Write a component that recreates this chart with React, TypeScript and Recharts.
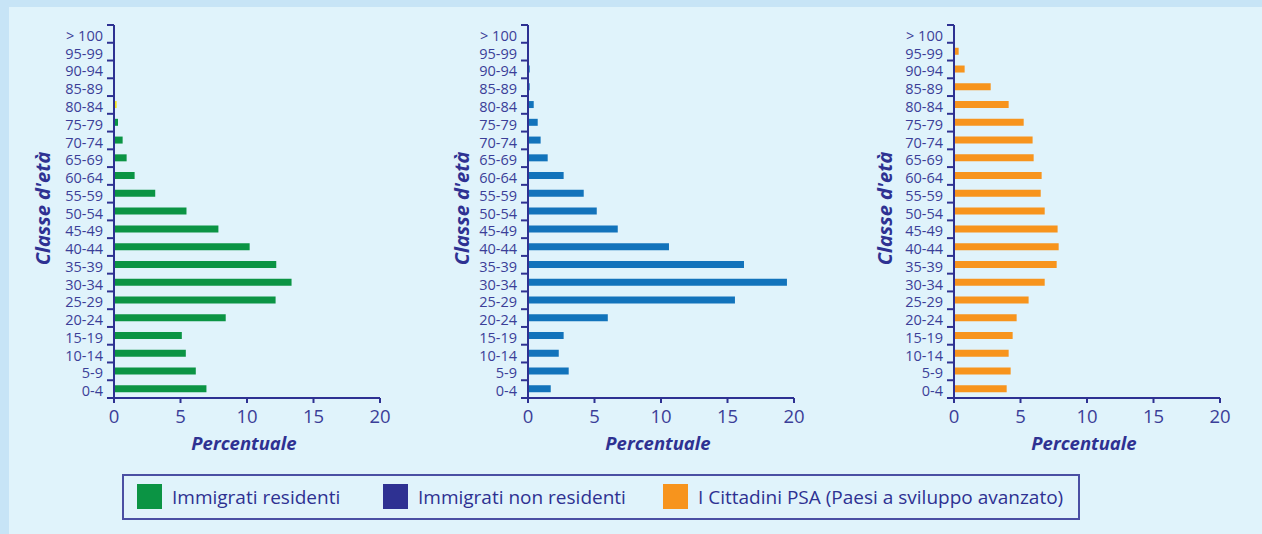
import { BarChart, Bar, XAxis, YAxis, Cell } from "recharts";

const AGE_CLASSES = [
  "> 100", "95-99", "90-94", "85-89", "80-84", "75-79", "70-74", "65-69", "60-64", "55-59",
  "50-54", "45-49", "40-44", "35-39", "30-34", "25-29", "20-24", "15-19", "10-14", "5-9", "0-4",
];

const RESIDENTI = [0, 0, 0, 0.05, 0.2, 0.3, 0.65, 0.95, 1.55, 3.1, 5.45, 7.85, 10.2, 12.2, 13.35, 12.15, 8.4, 5.1, 5.4, 6.15, 6.95];
const NON_RESIDENTI = [0, 0, 0.13, 0.13, 0.43, 0.73, 0.95, 1.48, 2.68, 4.19, 5.17, 6.75, 10.6, 16.24, 19.47, 15.56, 6.0, 2.68, 2.31, 3.06, 1.71];
const PSA = [0, 0.35, 0.8, 2.76, 4.11, 5.24, 5.91, 5.99, 6.59, 6.52, 6.82, 7.79, 7.87, 7.72, 6.82, 5.61, 4.71, 4.41, 4.11, 4.26, 3.96];

// the two oldest classes of the first pyramid are drawn in yellow in the original
const HIGHLIGHT = ["85-89", "80-84"];

const X_TICKS = [0, 5, 10, 15, 20];

const LEGEND = [
  { label: "Immigrati residenti", color: "#0b9444", x: 137 },
  { label: "Immigrati non residenti", color: "#2e3192", x: 383 },
  { label: "I Cittadini PSA (Paesi a sviluppo avanzato)", color: "#f7941d", x: 663 },
];

const AXIS = "#2e3192";
const TEXT = "#3b3e98";
const FONT = "'Open Sans', sans-serif";

const PLOT_TOP = 25;
const PLOT_BOTTOM = 398;
const CHART_H = 460;
const BAND = (PLOT_BOTTOM - PLOT_TOP) / AGE_CLASSES.length;

function YTick(props: any) {
  const { x, y, payload, index } = props;
  return (
    <g>
      <text x={x - 11} y={y + 2} dy="0.35em" textAnchor="end" fill={TEXT} fontSize={14.5} fontFamily={FONT}>
        {payload.value}
      </text>
      <line x1={x - 7} x2={x} y1={y + BAND / 2} y2={y + BAND / 2} stroke={AXIS} strokeWidth={2} />
      {index === 0 && <line x1={x - 7} x2={x} y1={y - BAND / 2} y2={y - BAND / 2} stroke={AXIS} strokeWidth={2} />}
    </g>
  );
}

interface PyramidProps {
  values: number[];
  color: string;
  left: number;
  width: number;
  yAxisWidth: number;
  right: number;
  titleX: number;
  highlight?: boolean;
}

function Pyramid({ values, color, left, width, yAxisWidth, right, titleX, highlight }: PyramidProps) {
  const data = AGE_CLASSES.map((age, i) => ({ age, value: values[i] }));
  const midX = yAxisWidth + (width - right - yAxisWidth) / 2;
  const midY = (PLOT_TOP + PLOT_BOTTOM) / 2;
  return (
    <div style={{ position: "absolute", left, top: 0 }}>
      <BarChart
        layout="vertical"
        width={width}
        height={CHART_H}
        data={data}
        margin={{ top: PLOT_TOP, right, left: 0, bottom: 0 }}
      >
        <XAxis
          type="number"
          domain={[0, 20]}
          ticks={X_TICKS}
          interval={0}
          height={CHART_H - PLOT_BOTTOM}
          axisLine={{ stroke: AXIS, strokeWidth: 2 }}
          tickLine={{ stroke: AXIS, strokeWidth: 2 }}
          tickSize={5}
          tickMargin={7}
          tick={{ fill: TEXT, fontSize: 18.5, fontFamily: FONT }}
          label={{
            content: () => (
              <text
                x={midX - 3}
                y={444}
                dy="0.35em"
                textAnchor="middle"
                fill={AXIS}
                fontSize={18.5}
                fontWeight="bold"
                fontStyle="italic"
                fontFamily={FONT}
              >
                Percentuale
              </text>
            ),
          }}
        />
        <YAxis
          type="category"
          dataKey="age"
          width={yAxisWidth}
          interval={0}
          tickSize={0}
          tickMargin={0}
          tickLine={false}
          axisLine={{ stroke: AXIS, strokeWidth: 2 }}
          tick={YTick}
          label={{
            content: () => (
              <text
                x={titleX}
                y={midY - 3}
                dy="0.35em"
                transform={`rotate(-90 ${titleX} ${midY - 3})`}
                textAnchor="middle"
                fill={AXIS}
                fontSize={20}
                fontWeight="bold"
                fontStyle="italic"
                fontFamily={FONT}
              >
                Classe d'età
              </text>
            ),
          }}
        />
        <Bar dataKey="value" fill={color} barSize={7} isAnimationActive={false}>
          {data.map((d) => (
            <Cell key={d.age} fill={highlight && HIGHLIGHT.includes(d.age) ? "#f4e41c" : color} />
          ))}
        </Bar>
      </BarChart>
    </div>
  );
}

export default function App() {
  return (
    <div style={{ position: "absolute", left: 0, top: 0, width: 1262, height: 534, background: "#c7e4f6", overflow: "hidden" }}>
      <div style={{ position: "absolute", left: 9, top: 7, right: 0, bottom: 0, background: "#e0f3fb" }} />
      <Pyramid values={RESIDENTI} color="#0b9444" left={0} width={420} yAxisWidth={114} right={40} titleX={43} highlight />
      <Pyramid values={NON_RESIDENTI} color="#1273bb" left={420} width={420} yAxisWidth={108} right={46} titleX={42} />
      <Pyramid values={PSA} color="#f7941d" left={840} width={422} yAxisWidth={114} right={42} titleX={45} />
      <div
        style={{
          position: "absolute",
          left: 122,
          top: 474,
          width: 958,
          height: 46,
          border: "2px solid #4a4fa3",
          boxSizing: "border-box",
        }}
      />
      {LEGEND.map((l) => (
        <div
          key={l.label}
          style={{
            position: "absolute",
            left: l.x,
            top: 484,
            height: 25,
            display: "flex",
            alignItems: "center",
            fontFamily: FONT,
            fontSize: 19,
            color: AXIS,
            whiteSpace: "nowrap",
          }}
        >
          <span style={{ display: "inline-block", width: 25, height: 25, background: l.color, marginRight: 10 }} />
          <span>{l.label}</span>
        </div>
      ))}
    </div>
  );
}
